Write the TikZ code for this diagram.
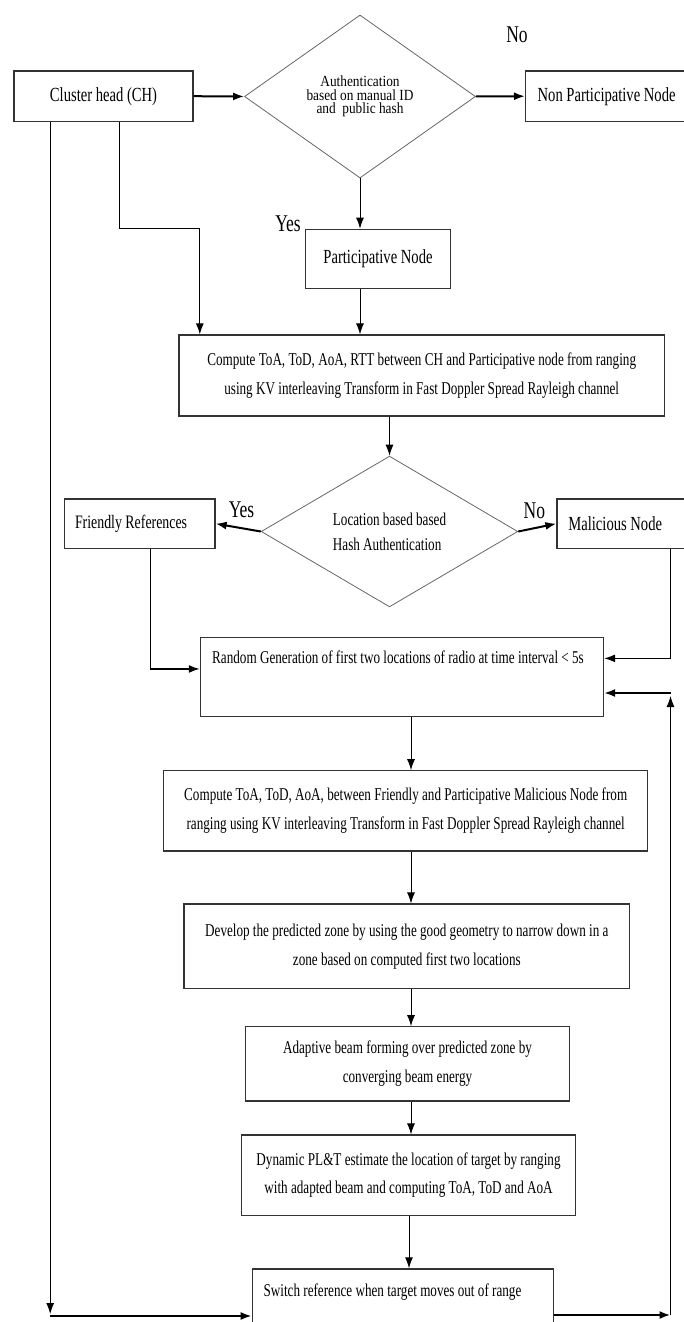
\documentclass[tikz,border=0pt]{standalone}
\usepackage{fontspec}
\setmainfont{Liberation Serif}[FakeStretch=0.73]
\newfontfamily\losangefont{Liberation Serif}[FakeStretch=0.86]
\usetikzlibrary{shapes.geometric,arrows.meta}

\begin{document}
\begin{tikzpicture}[x=1pt,y=-1pt,
    boite/.style={draw=black!80,line width=1.2pt,rectangle,inner sep=0pt,align=center,font=\fontsize{18}{29}\selectfont},
    losange/.style={draw=black!60,line width=0.8pt,diamond,inner sep=0pt},
    fleche/.style={-{Latex[length=11pt,width=8pt]},line width=1pt},
    grosse/.style={fleche,line width=2pt},
    etiq/.style={font=\fontsize{24}{24}\selectfont}]
        % Cadre de la page (proportions de l'image)
        \useasboundingbox (0,0) rectangle (684,1322);

        % Partie haute : tete de cluster et premiere authentification
        \node[boite,minimum width=179pt,minimum height=50.5pt,font=\fontsize{20}{24}\selectfont] (ch) at (103.5,96.2) {Cluster head (CH)};
        \node[losange,minimum width=231pt,minimum height=163pt,align=center,font=\losangefont\fontsize{15.5}{13.5}\selectfont] (auth) at (360,96.5) {Authentication\\based on manual ID\\and\ \ public hash};
        \node[boite,minimum width=162pt,minimum height=50.5pt,font=\fontsize{20}{24}\selectfont] (nonpart) at (606.6,96.2) {Non Participative Node};
        \node[etiq] (non1) at (517,35) {No};
        \node[boite,minimum width=145.2pt,minimum height=59pt,font=\fontsize{20}{24}\selectfont] (part) at (378,258.8) {Participative Node};
        \node[etiq] (oui1) at (288,224) {Yes};
        \node[boite,minimum width=485.4pt,minimum height=81pt] (comp1) at (421.7,375.5) {Compute ToA, ToD, AoA, RTT between CH and Participative node from ranging\\using KV interleaving Transform in Fast Doppler Spread Rayleigh channel};

        % Deuxieme test : authentification par la position
        \node[losange,minimum width=256.6pt,minimum height=126.7pt,align=flush left,font=\fontsize{18}{25}\selectfont] (loc) at (389.5,531.5) {Location based based\\Hash Authentication};
        \node[boite,text width=129.3pt,inner xsep=10.7pt,minimum height=49.3pt,align=flush left,font=\fontsize{19}{24}\selectfont] (friend) at (139.65,523.65) {Friendly References};
        \node[boite,text width=110.2pt,inner xsep=11.4pt,minimum height=49.3pt,align=flush left,font=\fontsize{20}{24}\selectfont] (malic) at (623.5,523.65) {Malicious Node};
        \node[etiq] (oui2) at (241.5,510) {Yes};
        \node[etiq] (non2) at (534.4,511) {No};

        % Suite des traitements
        \node[boite,anchor=north west,text width=379.5pt,inner xsep=11.8pt,inner ysep=0pt,align=flush left,text height=25.8pt,text depth=53.5pt] (random) at (199.8,636.7) {Random Generation of first two locations of radio at time interval < 5s};
        \node[boite,minimum width=484.2pt,minimum height=80.3pt] (comp2) at (405.7,810.9) {Compute ToA, ToD, AoA, between Friendly and Participative Malicious Node from\\ranging using KV interleaving Transform in Fast Doppler Spread Rayleigh channel};
        \node[boite,minimum width=445.5pt,minimum height=84.3pt] (develop) at (406.8,946.2) {Develop the predicted zone by using the good geometry to narrow down in a\\zone based on computed first two locations};
        \node[boite,minimum width=323.7pt,minimum height=74.3pt] (adapt) at (407.5,1063.9) {Adaptive beam forming over predicted zone by\\converging beam energy};
        \node[boite,minimum width=334.6pt,minimum height=80.7pt,font=\fontsize{18}{28}\selectfont] (dyn) at (408.5,1175.4) {Dynamic PL\&T estimate the location of target by ranging\\with adapted beam and computing ToA, ToD and AoA};
        \node[boite,anchor=north west,text width=278.8pt,inner xsep=11.3pt,inner ysep=0pt,align=flush left,text height=27.7pt,text depth=34pt] (switch) at (251.7,1268.3) {Switch reference when target moves out of range};

        % Points libres des retours
        \coordinate (gauche) at (50.2,1314);
        \coordinate (gbas) at (50.2,1316);
        \coordinate (dbas) at (670.5,1315);
        \coordinate (dhaut) at (670.5,696);
        \coordinate (dcoin) at (670.5,693);

        % Liaisons
        \draw[grosse] (ch.east) -- (auth.west);
        \draw[grosse] (auth.east) -- (nonpart.west);
        \draw[fleche] (auth.south) -- (auth.south |- part.north);
        \draw[fleche] ([xshift=15.5pt]ch.south) -- ++(0,106.8) -| ([xshift=-221.9pt]comp1.north);
        \draw[fleche] (auth.south |- part.south) -- (auth.south |- comp1.north);
        \draw[fleche] (loc.north |- comp1.south) -- (loc.north);
        \draw[grosse] (loc.west) -- (friend.east);
        \draw[grosse] (loc.east) -- (malic.west);
        \draw[fleche,line width=1.5pt] ([xshift=10.9pt]friend.south) |- ([yshift=8pt]random.west);
        \draw[fleche,line width=1.5pt] ([xshift=47pt]malic.south) |- ([yshift=18.6pt]random.east);
        \draw[fleche] (random.south -| 411,0) -- (comp2.north -| 411,0);
        \draw[fleche] (comp2.south -| 411,0) -- (develop.north -| 411,0);
        \draw[fleche] (develop.south -| 411,0) -- (adapt.north -| 411,0);
        \draw[fleche] (adapt.south -| 411,0) -- (dyn.north -| 411,0);
        \draw[fleche] (dyn.south -| 409,0) -- (switch.north -| 409,0);

        % Retours vers le bas et vers la generation aleatoire
        \draw[fleche] (ch.south -| gauche) -- (gauche);
        \draw[grosse] (gbas) -- (gbas -| switch.west);
        \draw[grosse] (dbas -| switch.east) -- (dbas);
        \draw[fleche] (dbas) -- (dhaut);
        \draw[grosse] (dcoin) -- (dcoin -| random.east);
\end{tikzpicture}
\end{document}
